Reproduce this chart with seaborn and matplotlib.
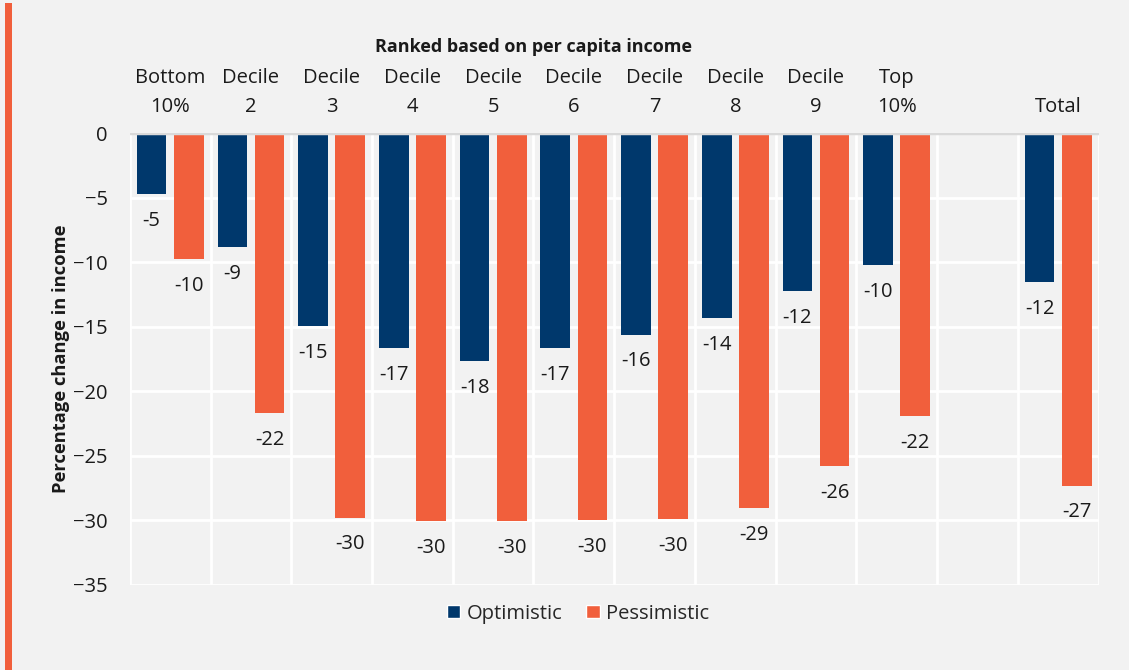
import numpy as np
import pandas as pd
import matplotlib.pyplot as plt
import seaborn as sns
from matplotlib.patches import Rectangle, Patch

# groups along the top, with an empty slot before Total
groups = ['Bottom\n10%', 'Decile\n2', 'Decile\n3', 'Decile\n4', 'Decile\n5', 'Decile\n6',
          'Decile\n7', 'Decile\n8', 'Decile\n9', 'Top\n10%', ' ', 'Total']
optimistic = [-4.7, -8.8, -14.95, -16.65, -17.65, -16.65, -15.6, -14.35, -12.25, -10.2, np.nan, -11.55]
pessimistic = [-9.75, -21.7, -29.8, -30.05, -30.05, -30.0, -29.9, -29.05, -25.8, -21.9, np.nan, -27.3]
scenarios = ['Optimistic', 'Pessimistic']
colors = ['#00386c', '#f15f3c']
bg = '#f2f2f2'
fs = 14.5

df = pd.DataFrame({
    'Group': groups * 2,
    'Scenario': [scenarios[0]] * len(groups) + [scenarios[1]] * len(groups),
    'Change': optimistic + pessimistic,
})

sns.set_theme(style='white')
plt.rcParams['font.family'] = ['Open Sans', 'DejaVu Sans']

fig = plt.figure(figsize=(11.29, 6.70), dpi=100, facecolor=bg)
ax = fig.add_axes([0.115, 0.127, 0.858, 0.674])
ax.set_facecolor(bg)

sns.barplot(data=df, x='Group', y='Change', hue='Scenario', order=groups,
            hue_order=scenarios, palette=colors, width=0.92, gap=0.2,
            saturation=1, ax=ax, legend=False, linewidth=0)

# data labels under each bar end
for cont, vals in zip(ax.containers, [optimistic, pessimistic]):
    labs = [f'{v:.0f}' for v in vals if not np.isnan(v)]
    ax.bar_label(cont, labels=labs, padding=12, fontsize=fs, color='#1a1a1a')

ax.set_ylim(-35, 0)
ax.set_xlim(-0.5, len(groups) - 0.5)
ax.set_yticks(range(-35, 1, 5))

# grid: white horizontal lines, white separators between groups
ax.set_xticks(np.arange(-0.5, len(groups), 1), minor=True)
ax.grid(axis='y', which='major', color='white', lw=2)
ax.grid(axis='x', which='minor', color='white', lw=2)
ax.set_axisbelow(True)
ax.axhline(0, color='#d9d9d9', lw=2.5, zorder=5)

for s in ax.spines.values():
    s.set_visible(False)

ax.xaxis.tick_top()
ax.tick_params(axis='x', which='both', length=0, pad=12, labelsize=fs, labelcolor='#1a1a1a')
for t in ax.get_xticklabels():
    t.set_linespacing(1.55)
ax.tick_params(axis='y', length=0, pad=16, labelsize=fs, labelcolor='#1a1a1a')
ax.set_xlabel('')
ax.set_ylabel('Percentage change in income', fontsize=13.2, fontweight='bold', color='#1a1a1a')
ax.yaxis.set_label_coords(-0.062, 0.5)

# heading over the decile groups
ax.text(4.5, 1.192, 'Ranked based on per capita income', transform=ax.get_xaxis_transform(),
        ha='center', va='center', fontsize=13, fontweight='bold', color='#1a1a1a')

handles = [Patch(facecolor=c, label=n) for c, n in zip(colors, scenarios)]
fig.legend(handles=handles, loc='center', bbox_to_anchor=(0.512, 0.084), ncol=2,
           frameon=False, fontsize=fs, handlelength=0.65, handleheight=0.65,
           handletextpad=0.3, columnspacing=1.2)

# orange accent stripe on the left
fig.patches.append(Rectangle((5 / 1129, 0), 7 / 1129, 1 - 3 / 670, transform=fig.transFigure,
                             facecolor='#f15f3c', edgecolor='none'))

fig.savefig('out.png', dpi=100, facecolor=bg)
